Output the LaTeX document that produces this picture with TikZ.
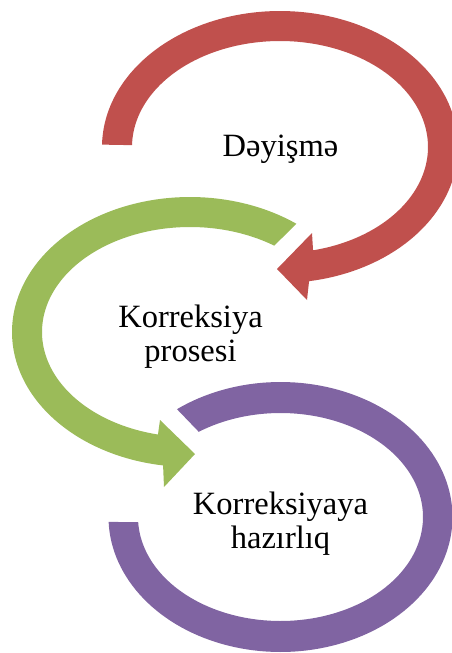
\documentclass[tikz,border=0pt]{standalone}
\usepackage{fontspec}
\setmainfont{Liberation Serif}
\definecolor{arcred}{HTML}{C0504D}
\definecolor{arcgreen}{HTML}{9BBB59}
\definecolor{arcpurple}{HTML}{8064A2}
\tikzset{
  label/.style={align=center, inner sep=0pt, anchor=base,
    font=\fontsize{32.5}{34}\selectfont, text=black},
  band/.style={samples=140, variable=\t},
}
\begin{document}
\begin{tikzpicture}[x=1pt, y=1pt, yscale=-1]
  \useasboundingbox (0,0) rectangle (452,653);
  \clip (0,0) rectangle (452,653);

  % red band: from the left over the top, arrow pointing left at the bottom
  \fill[arcred]
    plot[band, domain=181:440.6] ({280+178*cos(\t)}, {147+136*sin(\t)})
    -- (307,300) -- (277,269) -- (312,233)
    -- plot[band, domain=437.1:181] ({280+148*cos(\t)}, {147+106*sin(\t)})
    -- cycle;

  % green band: from upper right over the top and left, arrow pointing right
  \fill[arcgreen]
    plot[band, domain=-53.3:-261.3] ({190+178*cos(\t)}, {332+135*sin(\t)})
    -- (164,487) -- (195,454) -- (160,420)
    -- plot[band, domain=-257.5:-55.3] ({190+148*cos(\t)}, {332+105*sin(\t)})
    -- cycle;

  % purple band: plain ring segment, cut at both ends
  \fill[arcpurple]
    plot[band, domain=233:537.9] ({280.5+172*cos(\t)}, {517+135*sin(\t)})
    -- plot[band, domain=537.2:235] ({280.5+142.5*cos(\t)}, {517+104*sin(\t)})
    -- cycle;

  % labels (a multi-line label sits on the baseline of its last line)
  \node[label] (change) at (280.5,156.7) {Dəyişmə};
  \node[label] (process) at (190.5,361.7) {Korreksiya\\prosesi};
  \node[label] (prepare) at (280.5,548.3) {Korreksiyaya\\hazırlıq};
\end{tikzpicture}
\end{document}
